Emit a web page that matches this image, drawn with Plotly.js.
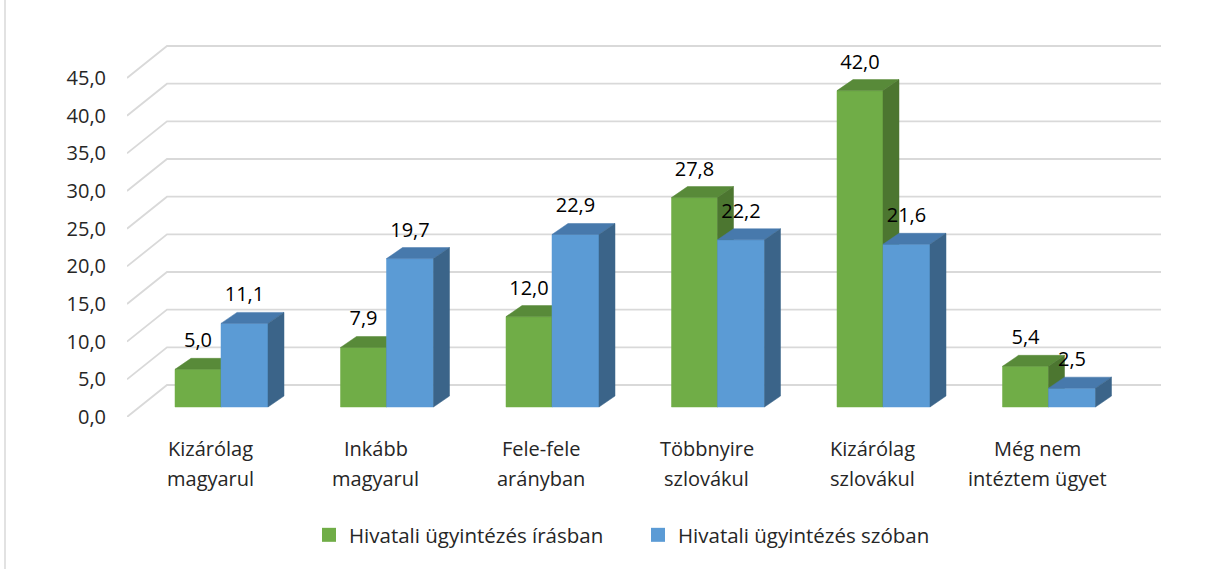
<!DOCTYPE html>
<html>
<head>
<meta charset="utf-8">
<script src="https://cdn.plot.ly/plotly-3.0.1.min.js"></script>
<style>html,body{margin:0;padding:0;background:#fff;}#chart{width:1231px;height:569px;}</style>
</head>
<body>
<div id="chart"></div>
<script>
// ---- data ----
const categories = [
  ['Kizárólag', 'magyarul'],
  ['Inkább', 'magyarul'],
  ['Fele-fele', 'arányban'],
  ['Többnyire', 'szlovákul'],
  ['Kizárólag', 'szlovákul'],
  ['Még nem', 'intéztem ügyet']
];
const seriesNames = ['Hivatali ügyintézés írásban', 'Hivatali ügyintézés szóban'];
const writtenValues = [5.0, 7.9, 12.0, 27.8, 42.0, 5.4];
const spokenValues = [11.1, 19.7, 22.9, 22.2, 21.6, 2.5];
const yTicks = [0, 5, 10, 15, 20, 25, 30, 35, 40, 45];

// ---- styling / geometry (pixel based, converted to axis units) ----
const W = 1231, H = 569;
const M = {l: 127, r: 70, t: 40, b: 152};
const PW = W - M.l - M.r, PH = H - M.t - M.b;
const PX_X = 165.5;          // px per category
const PX_Y = 7.533;          // px per value unit
const GC0 = 221;             // px of first group centre
const fx = px => px / PX_X;
const fy = px => px / PX_Y;
const xMin = fx(M.l - GC0), xMax = fx(W - M.r - GC0);
const yMax = fy(PH);
const BASE = fy(10), DX = fx(16), DY = fy(11);
const WALL_DX = fx(40), WALL_DY = fy(32);
const widths = [fx(46), fx(47)];
const colors = [
  {front: '#70AD47', top: '#588A39', side: '#4C7630'},
  {front: '#5B9BD5', top: '#4779AC', side: '#3B6489'}
];
const FONT = 'Open Sans, Arial, sans-serif';
const FS = 20;
const values = [writtenValues, spokenValues];

const traces = [];
// gridlines: side wall diagonal + back wall line
const gx = [], gy = [];
yTicks.forEach(v => {
  gx.push(xMin, xMin + WALL_DX, xMax, null);
  gy.push(v, v + WALL_DY, v + WALL_DY, null);
});
traces.push({type: 'scatter', mode: 'lines', x: gx, y: gy, line: {color: '#D9D9D9', width: 1.8},
  hoverinfo: 'skip', showlegend: false, cliponaxis: false});

function faceTrace(xs, ys, color) {
  return {type: 'scatter', mode: 'lines', x: xs, y: ys, fill: 'toself', fillcolor: color,
    line: {color: color, width: 0.5}, hoverinfo: 'skip', showlegend: false, cliponaxis: false};
}

values.forEach((vals, s) => {
  const F = {x: [], y: []}, T = {x: [], y: []}, S = {x: [], y: []};
  vals.forEach((v, i) => {
    const left = s === 0 ? i - widths[0] : i;
    const right = s === 0 ? i : i + widths[1];
    const top = BASE + v;
    F.x.push(left, right, right, left, left, null);
    F.y.push(BASE, BASE, top, top, BASE, null);
    T.x.push(left, right, right + DX, left + DX, left, null);
    T.y.push(top, top, top + DY, top + DY, top, null);
    S.x.push(right, right + DX, right + DX, right, right, null);
    S.y.push(BASE, BASE + DY, top + DY, top, BASE, null);
  });
  traces.push(faceTrace(F.x, F.y, colors[s].front));
  traces.push(faceTrace(T.x, T.y, colors[s].top));
  traces.push(faceTrace(S.x, S.y, colors[s].side));
});

// data labels
values.forEach((vals, s) => {
  traces.push({
    type: 'scatter', mode: 'text',
    x: vals.map((v, i) => s === 0 ? i - widths[0] / 2 : i + widths[1] / 2),
    y: vals.map(v => BASE + v + DY + fy(16)),
    text: vals.map(v => v.toFixed(1).replace('.', ',')),
    textposition: 'middle center',
    textfont: {family: FONT, size: FS, color: '#000000'},
    hoverinfo: 'skip', showlegend: false, cliponaxis: false
  });
});

// legend entries
seriesNames.forEach((n, s) => {
  traces.push({type: 'scatter', mode: 'markers', x: [null], y: [null], name: n,
    marker: {symbol: 'square', size: 14, color: colors[s].front}, hoverinfo: 'skip'});
});

// category labels (two lines each)
const annotations = [];
categories.forEach((c, i) => {
  c.forEach((line, k) => {
    annotations.push({
      x: i - fx(11), xref: 'x', y: -(31 + k * 30) / PH, yref: 'paper',
      text: line, showarrow: false, xanchor: 'center', yanchor: 'middle',
      font: {family: FONT, size: FS, color: '#262626'}
    });
  });
});

const layout = {
  width: W, height: H,
  margin: M,
  paper_bgcolor: '#ffffff', plot_bgcolor: 'rgba(0,0,0,0)',
  separators: ',.',
  showlegend: true,
  legend: {orientation: 'h', x: (309 - M.l) / PW, xanchor: 'left', y: ((H - M.b) - 535) / PH,
    yanchor: 'middle', font: {family: FONT, size: 20.5, color: '#262626'},
    entrywidth: 284, entrywidthmode: 'pixels'},
  xaxis: {range: [xMin, xMax], showgrid: false, zeroline: false, showline: false,
    showticklabels: false, ticks: '', fixedrange: true},
  yaxis: {range: [0, yMax], showgrid: false, zeroline: false, showline: false,
    tickvals: yTicks, tickformat: '.1f', ticks: '', ticklabelstandoff: 20,
    tickfont: {family: FONT, size: FS, color: '#262626'}, fixedrange: true},
  annotations: annotations,
  shapes: [{type: 'line', xref: 'paper', yref: 'paper',
    x0: (5 - M.l) / PW, x1: (5 - M.l) / PW,
    y0: (H - M.b - H) / PH, y1: (H - M.b) / PH,
    line: {color: '#D9D9D9', width: 1.5}}]
};

Plotly.newPlot('chart', traces, layout, {staticPlot: true, displayModeBar: false});
</script>
</body>
</html>
